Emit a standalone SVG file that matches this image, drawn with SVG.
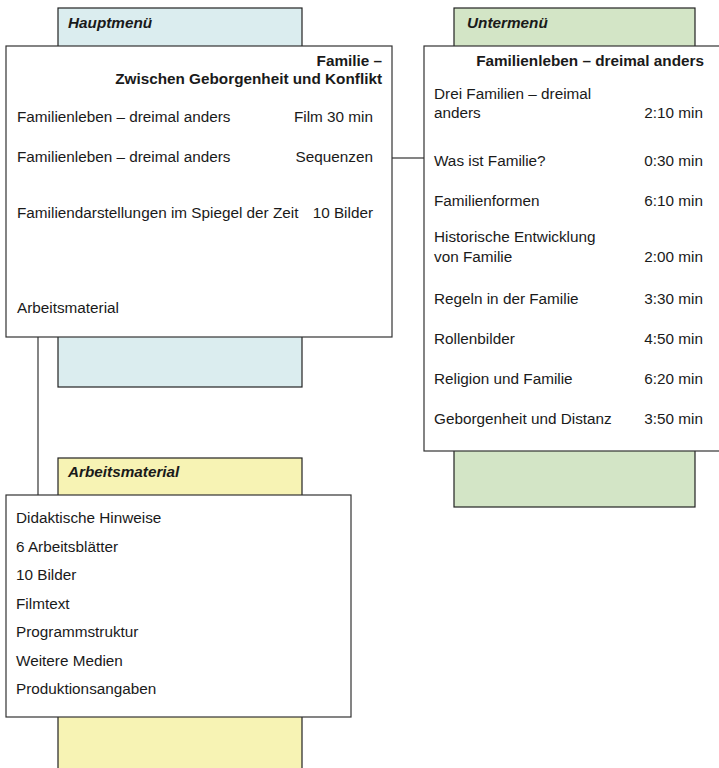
<svg xmlns="http://www.w3.org/2000/svg" width="719" height="768" viewBox="0 0 719 768">
<style>
text{font-family:"Liberation Sans",Arial,sans-serif;font-size:15.3px;fill:#1a1a1a}
.h{font-weight:bold;font-style:italic}
.b{font-weight:bold}
.e{text-anchor:end}
.bg{stroke:#222;stroke-width:1.2}
.box{fill:#fff;stroke:#333;stroke-width:1.2}
.con{stroke:#333;stroke-width:1.2;fill:none}
</style>
<rect width="719" height="768" fill="#fff"/>
<g id="connectors">
<line class="con" x1="38" y1="337" x2="38" y2="495"/>
<line class="con" x1="392" y1="158" x2="424" y2="158"/>
</g>
<g id="hauptmenu">
<rect class="bg" x="58" y="8" width="244" height="379" fill="#DBEDEF"/>
<text class="h" x="68" y="28">Hauptmenü</text>
<rect class="box" x="6" y="46" width="386" height="291"/>
<text class="b e" x="382" y="66">Familie –</text>
<text class="b e" x="382" y="84">Zwischen Geborgenheit und Konflikt</text>
<text x="17" y="122">Familienleben – dreimal anders</text>
<text class="e" x="373" y="122">Film 30 min</text>
<text x="17" y="162">Familienleben – dreimal anders</text>
<text class="e" x="373" y="162">Sequenzen</text>
<text x="17" y="218">Familiendarstellungen im Spiegel der Zeit</text>
<text class="e" x="373" y="218">10 Bilder</text>
<text x="17" y="313">Arbeitsmaterial</text>
</g>
<g id="untermenu">
<rect class="bg" x="454" y="8" width="241" height="499" fill="#D3E5C6"/>
<text class="h" x="467" y="28">Untermenü</text>
<rect class="box" x="424" y="46" width="300" height="405"/>
<text class="b e" x="704" y="66">Familienleben – dreimal anders</text>
<text x="434" y="99">Drei Familien – dreimal</text>
<text x="434" y="118">anders</text>
<text class="e" x="703" y="118">2:10 min</text>
<text x="434" y="166">Was ist Familie?</text>
<text class="e" x="703" y="166">0:30 min</text>
<text x="434" y="206">Familienformen</text>
<text class="e" x="703" y="206">6:10 min</text>
<text x="434" y="242">Historische Entwicklung</text>
<text x="434" y="262">von Familie</text>
<text class="e" x="703" y="262">2:00 min</text>
<text x="434" y="304">Regeln in der Familie</text>
<text class="e" x="703" y="304">3:30 min</text>
<text x="434" y="344">Rollenbilder</text>
<text class="e" x="703" y="344">4:50 min</text>
<text x="434" y="384">Religion und Familie</text>
<text class="e" x="703" y="384">6:20 min</text>
<text x="434" y="424">Geborgenheit und Distanz</text>
<text class="e" x="703" y="424">3:50 min</text>
</g>
<g id="arbeitsmaterial">
<rect class="bg" x="58" y="458" width="244" height="320" fill="#F7F3B4"/>
<text class="h" x="68" y="477">Arbeitsmaterial</text>
<rect class="box" x="6" y="495" width="345" height="222"/>
<text x="16" y="523">Didaktische Hinweise</text>
<text x="16" y="552">6 Arbeitsblätter</text>
<text x="16" y="580">10 Bilder</text>
<text x="16" y="609">Filmtext</text>
<text x="16" y="637">Programmstruktur</text>
<text x="16" y="666">Weitere Medien</text>
<text x="16" y="694">Produktionsangaben</text>
</g>
</svg>
